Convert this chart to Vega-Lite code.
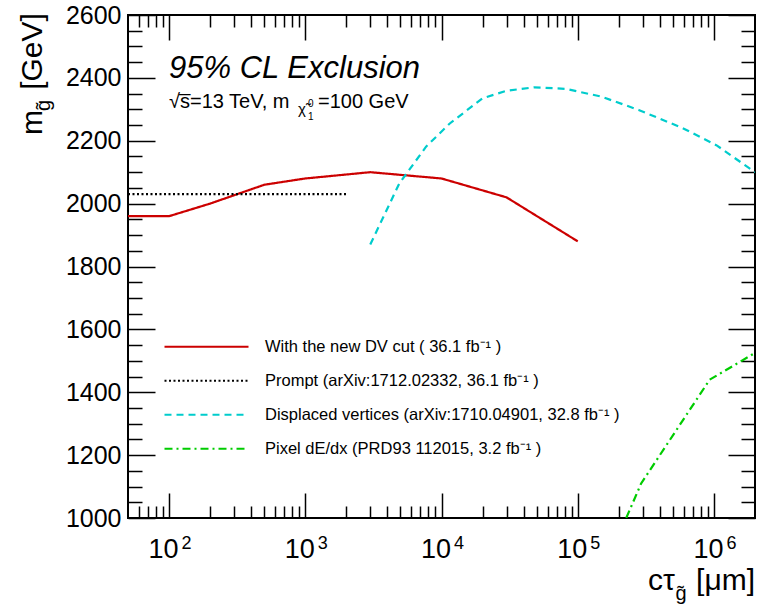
{
  "$schema": "https://vega.github.io/schema/vega-lite/v6.json",
  "width": 627,
  "height": 503,
  "autosize": "none",
  "padding": {"left": 128, "top": 15, "right": 3, "bottom": 92},
  "background": "white",
  "config": {
    "font": "Liberation Sans",
    "view": {"stroke": "black", "strokeWidth": 2},
    "axis": {"domain": false, "grid": false, "tickColor": "black", "tickWidth": 1.5, "labelColor": "black", "labelOverlap": false, "labelBound": false, "labelFlush": false, "title": null, "labelFont": "Liberation Sans"},
    "legend": {"orient": "none", "legendX": 35, "legendY": 315, "padding": 0, "title": null, "symbolType": "stroke", "symbolSize": 7056, "symbolStrokeWidth": 2.2, "labelFontSize": 16.5, "labelFont": "Liberation Sans", "labelColor": "black", "labelOffset": 15, "clipHeight": 33.5, "rowPadding": 0, "labelLimit": 500}
  },
  "datasets": {
    "curves": [
      {"series": "DV", "ct": 50, "m": 1960},
      {"series": "DV", "ct": 100, "m": 1960},
      {"series": "DV", "ct": 200, "m": 2000},
      {"series": "DV", "ct": 500, "m": 2060},
      {"series": "DV", "ct": 1000, "m": 2080},
      {"series": "DV", "ct": 3000, "m": 2100},
      {"series": "DV", "ct": 10000, "m": 2080},
      {"series": "DV", "ct": 30000, "m": 2020},
      {"series": "DV", "ct": 100000, "m": 1880},
      {"series": "Prompt", "ct": 50, "m": 2030},
      {"series": "Prompt", "ct": 2000, "m": 2030},
      {"series": "Displaced", "ct": 3000, "m": 1870},
      {"series": "Displaced", "ct": 4900, "m": 2064},
      {"series": "Displaced", "ct": 7700, "m": 2181},
      {"series": "Displaced", "ct": 11500, "m": 2255},
      {"series": "Displaced", "ct": 20000, "m": 2335},
      {"series": "Displaced", "ct": 30000, "m": 2359},
      {"series": "Displaced", "ct": 48000, "m": 2370},
      {"series": "Displaced", "ct": 82000, "m": 2365},
      {"series": "Displaced", "ct": 150000, "m": 2340},
      {"series": "Displaced", "ct": 280000, "m": 2298},
      {"series": "Displaced", "ct": 590000, "m": 2240},
      {"series": "Displaced", "ct": 1040000, "m": 2186},
      {"series": "Displaced", "ct": 2000000, "m": 2100},
      {"series": "Pixel", "ct": 227000, "m": 1000},
      {"series": "Pixel", "ct": 292000, "m": 1110},
      {"series": "Pixel", "ct": 930000, "m": 1440},
      {"series": "Pixel", "ct": 2000000, "m": 1525}
    ]
  },
  "layer": [
    {
      "data": {"name": "curves"},
      "mark": {"type": "line", "strokeWidth": 2.2, "clip": true},
      "encoding": {
        "x": {"field": "ct", "type": "quantitative",
          "scale": {"type": "log", "domain": [50, 2000000], "nice": false},
          "axis": {"orient": "bottom",
            "values": [60,70,80,90,100,200,300,400,500,600,700,800,900,1000,2000,3000,4000,5000,6000,7000,8000,9000,10000,20000,30000,40000,50000,60000,70000,80000,90000,100000,200000,300000,400000,500000,600000,700000,800000,900000,1000000],
            "tickSize": {"condition": {"test": "abs(log(datum.value)/LN10 - round(log(datum.value)/LN10)) < 0.001", "value": -25}, "value": -12},
            "labelExpr": "abs(log(datum.value)/LN10 - round(log(datum.value)/LN10)) < 0.001 ? '10' : ''",
            "labelFontSize": 27, "labelOffset": -6, "labelPadding": 43, "labelAlign": "center", "labelBaseline": "top"}},
        "y": {"field": "m", "type": "quantitative",
          "scale": {"domain": [1000, 2600], "nice": false, "zero": false},
          "axis": {"orient": "left",
            "values": [1000,1050,1100,1150,1200,1250,1300,1350,1400,1450,1500,1550,1600,1650,1700,1750,1800,1850,1900,1950,2000,2050,2100,2150,2200,2250,2300,2350,2400,2450,2500,2550,2600],
            "format": "d",
            "tickSize": {"condition": {"test": "datum.value % 200 == 0", "value": -27}, "value": -14},
            "labelExpr": "datum.value % 200 == 0 ? datum.label : ''",
            "labelFontSize": 25, "labelPadding": 34}},
        "color": {"field": "series", "type": "nominal",
          "scale": {"domain": ["DV", "Prompt", "Displaced", "Pixel"], "range": ["#cc0000", "#000000", "#00cccc", "#00cc00"]},
          "legend": {"labelExpr": "datum.label == 'DV' ? 'With the new DV cut ( 36.1 fb⁻¹ )' : datum.label == 'Prompt' ? 'Prompt (arXiv:1712.02332, 36.1 fb⁻¹ )' : datum.label == 'Displaced' ? 'Displaced vertices (arXiv:1710.04901, 32.8 fb⁻¹ )' : 'Pixel dE/dx (PRD93 112015, 3.2 fb⁻¹ )'"}},
        "strokeDash": {"field": "series", "type": "nominal",
          "scale": {"domain": ["DV", "Prompt", "Displaced", "Pixel"], "range": [[1, 0], [2, 2.5], [7, 5], [8, 4, 2, 4]]},
          "legend": {"labelExpr": "datum.label == 'DV' ? 'With the new DV cut ( 36.1 fb⁻¹ )' : datum.label == 'Prompt' ? 'Prompt (arXiv:1712.02332, 36.1 fb⁻¹ )' : datum.label == 'Displaced' ? 'Displaced vertices (arXiv:1710.04901, 32.8 fb⁻¹ )' : 'Pixel dE/dx (PRD93 112015, 3.2 fb⁻¹ )'"}}
      }
    },
    {
      "data": {"name": "curves"},
      "mark": {"type": "point", "opacity": 0},
      "encoding": {
        "x": {"field": "ct", "type": "quantitative",
          "axis": {"orient": "top",
            "values": [60,70,80,90,100,200,300,400,500,600,700,800,900,1000,2000,3000,4000,5000,6000,7000,8000,9000,10000,20000,30000,40000,50000,60000,70000,80000,90000,100000,200000,300000,400000,500000,600000,700000,800000,900000,1000000],
            "tickSize": {"condition": {"test": "abs(log(datum.value)/LN10 - round(log(datum.value)/LN10)) < 0.001", "value": -25}, "value": -12},
            "labels": false}},
        "y": {"field": "m", "type": "quantitative",
          "axis": {"orient": "right",
            "values": [1000,1050,1100,1150,1200,1250,1300,1350,1400,1450,1500,1550,1600,1650,1700,1750,1800,1850,1900,1950,2000,2050,2100,2150,2200,2250,2300,2350,2400,2450,2500,2550,2600],
            "tickSize": {"condition": {"test": "datum.value % 200 == 0", "value": -27}, "value": -14},
            "labels": false}}
      }
    },
    {
      "data": {"name": "curves"},
      "mark": {"type": "point", "opacity": 0},
      "encoding": {
        "x": {"field": "ct", "type": "quantitative",
          "axis": {"orient": "bottom", "values": [100, 1000, 10000, 100000, 1000000], "ticks": false,
            "labelExpr": "'' + round(log(datum.value)/LN10)",
            "labelFontSize": 18, "labelOffset": 17, "labelPadding": 16, "labelAlign": "center", "labelBaseline": "top"}},
        "y": {"field": "m", "type": "quantitative", "axis": null}
      }
    },
    {
      "data": {"values": [{}]},
      "mark": {"type": "text", "text": "95% CL Exclusion", "fontSize": 31, "fontStyle": "italic", "align": "left", "baseline": "alphabetic", "clip": false, "color": "black"},
      "encoding": {"x": {"datum": 100, "type": "quantitative", "axis": null}, "y": {"datum": 2400, "type": "quantitative", "axis": null}}
    },
    {
      "data": {"values": [{}]},
      "mark": {"type": "text", "text": "√s̅=13 TeV, m", "fontSize": 20, "align": "left", "baseline": "alphabetic", "clip": false, "color": "black"},
      "encoding": {"x": {"datum": 100, "type": "quantitative", "axis": null}, "y": {"datum": 2305, "type": "quantitative", "axis": null}}
    },
    {
      "data": {"values": [{}]},
      "mark": {"type": "text", "text": "χ̃", "fontSize": 15, "dx": 129, "dy": 6, "align": "left", "baseline": "alphabetic", "clip": false, "color": "black"},
      "encoding": {"x": {"datum": 100, "type": "quantitative", "axis": null}, "y": {"datum": 2305, "type": "quantitative", "axis": null}}
    },
    {
      "data": {"values": [{}]},
      "mark": {"type": "text", "text": "0", "fontSize": 10, "dx": 139, "dy": -1, "align": "left", "baseline": "alphabetic", "clip": false, "color": "black"},
      "encoding": {"x": {"datum": 100, "type": "quantitative", "axis": null}, "y": {"datum": 2305, "type": "quantitative", "axis": null}}
    },
    {
      "data": {"values": [{}]},
      "mark": {"type": "text", "text": "1", "fontSize": 10, "dx": 139, "dy": 12, "align": "left", "baseline": "alphabetic", "clip": false, "color": "black"},
      "encoding": {"x": {"datum": 100, "type": "quantitative", "axis": null}, "y": {"datum": 2305, "type": "quantitative", "axis": null}}
    },
    {
      "data": {"values": [{}]},
      "mark": {"type": "text", "text": "=100 GeV", "fontSize": 20, "dx": 149, "align": "left", "baseline": "alphabetic", "clip": false, "color": "black"},
      "encoding": {"x": {"datum": 100, "type": "quantitative", "axis": null}, "y": {"datum": 2305, "type": "quantitative", "axis": null}}
    },
    {
      "data": {"values": [{}]},
      "mark": {"type": "text", "text": "[μm]", "fontSize": 30, "align": "right", "baseline": "alphabetic", "clip": false, "color": "black"},
      "encoding": {"x": {"datum": 2000000, "type": "quantitative", "axis": null}, "y": {"datum": 771, "type": "quantitative", "axis": null}}
    },
    {
      "data": {"values": [{}]},
      "mark": {"type": "text", "text": "cτ", "fontSize": 30, "align": "right", "baseline": "alphabetic", "clip": false, "color": "black"},
      "encoding": {"x": {"datum": 517000, "type": "quantitative", "axis": null}, "y": {"datum": 771, "type": "quantitative", "axis": null}}
    },
    {
      "data": {"values": [{}]},
      "mark": {"type": "text", "text": "g̃", "fontSize": 20, "align": "left", "baseline": "alphabetic", "clip": false, "color": "black"},
      "encoding": {"x": {"datum": 522000, "type": "quantitative", "axis": null}, "y": {"datum": 739, "type": "quantitative", "axis": null}}
    },
    {
      "data": {"values": [{}]},
      "mark": {"type": "text", "text": "[GeV]", "fontSize": 30, "angle": 270, "align": "right", "baseline": "alphabetic", "clip": false, "color": "black"},
      "encoding": {"x": {"datum": 11.7, "type": "quantitative", "axis": null}, "y": {"datum": 2606, "type": "quantitative", "axis": null}}
    },
    {
      "data": {"values": [{}]},
      "mark": {"type": "text", "text": "m", "fontSize": 30, "angle": 270, "align": "left", "baseline": "alphabetic", "clip": false, "color": "black"},
      "encoding": {"x": {"datum": 11.7, "type": "quantitative", "axis": null}, "y": {"datum": 2218, "type": "quantitative", "axis": null}}
    },
    {
      "data": {"values": [{}]},
      "mark": {"type": "text", "text": "g̃", "fontSize": 20, "angle": 270, "align": "left", "baseline": "alphabetic", "clip": false, "color": "black"},
      "encoding": {"x": {"datum": 13.4, "type": "quantitative", "axis": null}, "y": {"datum": 2295, "type": "quantitative", "axis": null}}
    }
  ],
  "resolve": {"axis": {"x": "independent", "y": "independent"}}
}
